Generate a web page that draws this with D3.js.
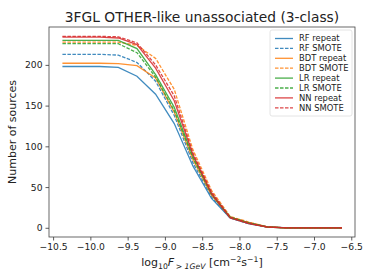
<!DOCTYPE html>
<html>
<head>
<meta charset="utf-8">
<script src="https://cdn.jsdelivr.net/npm/d3@7/dist/d3.min.js"></script>
<style>
  body { margin: 0; background: #fff; }
  text { font-family: "DejaVu Sans", sans-serif; fill: #222; }
</style>
</head>
<body>
<div id="wrapper"></div>
<script>
// flux bins (log10 F > 1 GeV)
const fluxBins = [-10.375, -10.125, -9.875, -9.625, -9.375, -9.125, -8.875, -8.625,
                  -8.375, -8.125, -7.875, -7.625, -7.375, -7.125, -6.875, -6.625];

const rfRepeat  = [198, 198, 198, 197, 186, 164, 128, 76, 36, 12, 5, 1, 0, 0, 0, 0];
const rfSmote   = [213, 213, 213, 212, 203, 180, 138, 80, 38, 12, 5, 1, 0, 0, 0, 0];
const bdtRepeat = [202, 202, 202, 201.5, 199, 184, 142, 84, 40, 13, 6, 1, 0, 0, 0, 0];
const bdtSmote  = [228, 228, 228, 228, 224, 208, 170, 96, 46, 14, 7, 1, 0, 0, 0, 0];
const lrRepeat  = [230, 230, 230, 230, 220, 188, 148, 88, 42, 13, 6, 1, 0, 0, 0, 0];
const lrSmote   = [226, 226, 226, 226, 215, 185, 144, 86, 41, 13, 6, 1, 0, 0, 0, 0];
const nnRepeat  = [234, 234, 234, 233, 225, 196, 156, 90, 42, 12, 5, 1, 0, 0, 0, 0];
const nnSmote   = [235, 235, 235, 234.5, 227, 200, 162, 92, 44, 13, 6, 1, 0, 0, 0, 0];

const seriesNames = ['RF repeat', 'RF SMOTE', 'BDT repeat', 'BDT SMOTE',
                     'LR repeat', 'LR SMOTE', 'NN repeat', 'NN SMOTE'];
const seriesValues = [rfRepeat, rfSmote, bdtRepeat, bdtSmote, lrRepeat, lrSmote, nnRepeat, nnSmote];

const xTicks = [-10.5, -10.0, -9.5, -9.0, -8.5, -8.0, -7.5, -7.0, -6.5];
const yTicks = [0, 50, 100, 150, 200];

const palette = ['#1f77b4', '#ff7f0e', '#2ca02c', '#d62728'];

// 1. Dimensions
const dimensions = {
    width: 374,
    height: 280,
    margin: { top: 27, right: 19, bottom: 43, left: 49 },
};
dimensions.boundedWidth = dimensions.width - dimensions.margin.left - dimensions.margin.right;
dimensions.boundedHeight = dimensions.height - dimensions.margin.top - dimensions.margin.bottom;

// 2. Canvas
const svg = d3.select('#wrapper')
    .append('svg')
    .attr('width', dimensions.width)
    .attr('height', dimensions.height);

const bounds = svg.append('g')
    .attr('transform', `translate(${dimensions.margin.left},${dimensions.margin.top})`);

// 3. Scales
const xScale = d3.scaleLinear()
    .domain([-10.555, -6.45])
    .range([0, dimensions.boundedWidth]);

const yScale = d3.scaleLinear()
    .domain([-11.3, 246.5])
    .range([dimensions.boundedHeight, 0]);

// 4. Lines
const lineGenerator = d3.line()
    .x((d, i) => xScale(fluxBins[i]))
    .y(d => yScale(d));

seriesValues.forEach((vals, i) => {
    const color = palette[Math.floor(i / 2)];
    const dashed = i % 2 === 1;
    bounds.append('path')
        .attr('d', lineGenerator(vals))
        .attr('fill', 'none')
        .attr('stroke', color)
        .attr('stroke-width', 1.3)
        .attr('stroke-opacity', 0.85)
        .attr('stroke-dasharray', dashed ? '3.5 1.5' : null);
});

// 5. Axes
const xAxis = bounds.append('g')
    .attr('transform', `translate(0,${dimensions.boundedHeight})`)
    .call(d3.axisBottom(xScale)
        .tickValues(xTicks)
        .tickSize(3.5)
        .tickPadding(2.5)
        .tickFormat(d => d3.format('.1f')(d).replace('-', '\u2212')));

const yAxis = bounds.append('g')
    .call(d3.axisLeft(yScale)
        .tickValues(yTicks)
        .tickSize(3.5)
        .tickPadding(3));

[xAxis, yAxis].forEach(ax => {
    ax.select('.domain').remove();
    ax.selectAll('.tick line').attr('stroke', '#333').attr('stroke-width', 0.8);
    ax.selectAll('.tick text')
        .style('font-family', '"DejaVu Sans", sans-serif')
        .style('font-size', '9.2px')
        .attr('fill', '#222');
});

// frame
bounds.append('rect')
    .attr('width', dimensions.boundedWidth)
    .attr('height', dimensions.boundedHeight)
    .attr('fill', 'none')
    .attr('stroke', '#444')
    .attr('stroke-width', 0.8);

// 6. Title and labels
svg.append('text')
    .attr('x', dimensions.margin.left + dimensions.boundedWidth / 2)
    .attr('y', 22)
    .attr('text-anchor', 'middle')
    .style('font-size', '13.8px')
    .text('3FGL OTHER-like unassociated (3-class)');

const xLabel = svg.append('text')
    .attr('x', dimensions.margin.left + dimensions.boundedWidth / 2)
    .attr('y', 266)
    .attr('text-anchor', 'middle')
    .style('font-size', '11px');
xLabel.append('tspan').text('log');
xLabel.append('tspan').attr('dy', 2.5).style('font-size', '7.7px').text('10');
xLabel.append('tspan').attr('dy', -2.5).style('font-style', 'italic').text('F');
xLabel.append('tspan').attr('dy', 2.5).style('font-size', '7.7px').style('font-style', 'italic').text('\u2009> 1GeV');
xLabel.append('tspan').attr('dy', -2.5).text(' [cm');
xLabel.append('tspan').attr('dy', -4).style('font-size', '7.7px').text('\u22122');
xLabel.append('tspan').attr('dy', 4).text('s');
xLabel.append('tspan').attr('dy', -4).style('font-size', '7.7px').text('\u22121');
xLabel.append('tspan').attr('dy', 4).text(']');

svg.append('text')
    .attr('transform', `translate(16,${dimensions.margin.top + dimensions.boundedHeight / 2}) rotate(-90)`)
    .attr('text-anchor', 'middle')
    .style('font-size', '11px')
    .text('Number of sources');

// 7. Legend
const legend = bounds.append('g')
    .attr('transform', `translate(${dimensions.boundedWidth - 85},3)`);

legend.append('rect')
    .attr('width', 82)
    .attr('height', 86)
    .attr('rx', 2)
    .attr('fill', '#fff')
    .attr('fill-opacity', 0.8)
    .attr('stroke', '#ddd')
    .attr('stroke-width', 0.8);

seriesNames.forEach((name, i) => {
    const y = 8.5 + i * 9.9;
    legend.append('line')
        .attr('x1', 5)
        .attr('x2', 23)
        .attr('y1', y)
        .attr('y2', y)
        .attr('stroke', palette[Math.floor(i / 2)])
        .attr('stroke-width', 1.3)
        .attr('stroke-opacity', 0.85)
        .attr('stroke-dasharray', i % 2 === 1 ? '3.5 1.5' : null);
    legend.append('text')
        .attr('x', 29)
        .attr('y', y)
        .attr('dy', '0.35em')
        .style('font-size', '8.4px')
        .text(name);
});
</script>
</body>
</html>
